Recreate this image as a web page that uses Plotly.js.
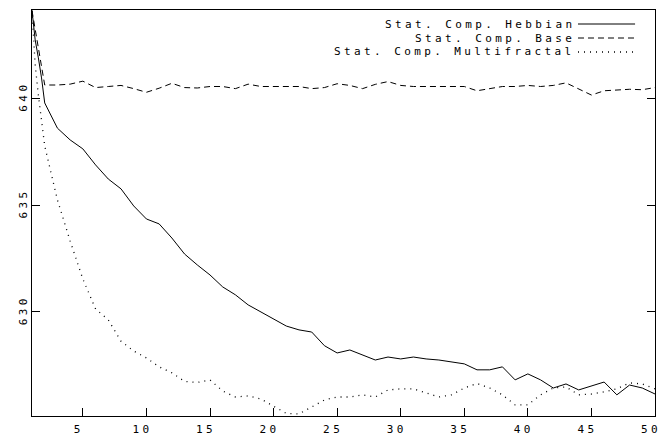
<!DOCTYPE html>
<html>
<head>
<meta charset="utf-8">
<script src="https://cdn.plot.ly/plotly-3.0.1.min.js"></script>
<style>
  html, body { margin: 0; padding: 0; background: #fff; }
  #chart { width: 664px; height: 438px; }
  .annotation-text, .xtick text, .ytick text { letter-spacing: 3.4px; }
</style>
</head>
<body>
<div id="chart"></div>
<script>
// Epochs (first interval read at finer resolution for the steep start)
var epochsFine = [1, 1.25, 1.5, 1.75, 2, 3, 4, 5, 6, 7, 8, 9, 10, 11, 12, 13, 14, 15, 16, 17, 18, 19, 20,
  21, 22, 23, 24, 25, 26, 27, 28, 29, 30, 31, 32, 33, 34, 35, 36, 37, 38, 39, 40,
  41, 42, 43, 44, 45, 46, 47, 48, 49, 50];
var epochs = [1, 2, 3, 4, 5, 6, 7, 8, 9, 10, 11, 12, 13, 14, 15, 16, 17, 18, 19, 20,
  21, 22, 23, 24, 25, 26, 27, 28, 29, 30, 31, 32, 33, 34, 35, 36, 37, 38, 39, 40,
  41, 42, 43, 44, 45, 46, 47, 48, 49, 50];

var hebbian = [644.1, 642.73, 641.89, 640.95, 639.78, 638.6, 638.05, 637.63, 636.88, 636.22, 635.76, 634.96,
  634.35, 634.12, 633.46, 632.71, 632.2, 631.73, 631.17, 630.8, 630.33, 630.0, 629.67,
  629.34, 629.16, 629.06, 628.42, 628.08, 628.22, 627.99, 627.75, 627.89, 627.8,
  627.89, 627.8, 627.75, 627.66, 627.57, 627.29, 627.29, 627.43, 626.82, 627.1,
  626.82, 626.44, 626.63, 626.35, 626.54, 626.72, 626.12, 626.58, 626.44, 626.16];

var multifractal = [644.1, 641.56, 640.15, 638.98, 637.77, 635.24, 633.32, 631.54, 630.14, 629.63, 628.63, 628.17,
  627.85, 627.43, 627.15, 626.75, 626.7, 626.82, 626.3, 626.02, 626.07, 625.93, 625.6,
  625.25, 625.23, 625.55, 625.88, 626.02, 626.02, 626.12, 626.02, 626.35, 626.4,
  626.4, 626.21, 626.02, 626.12, 626.44, 626.65, 626.44, 626.12, 625.65, 625.65,
  626.12, 626.44, 626.49, 626.12, 626.16, 626.26, 626.4, 626.68, 626.63, 626.4];

var base = [644.1, 640.62, 640.62, 640.66, 640.8, 640.5, 640.55, 640.6, 640.45, 640.28,
  640.47, 640.7, 640.5, 640.48, 640.55, 640.55, 640.45, 640.66, 640.55, 640.55,
  640.55, 640.55, 640.45, 640.5, 640.68, 640.6, 640.45, 640.65, 640.78, 640.6,
  640.55, 640.55, 640.55, 640.55, 640.55, 640.35, 640.45, 640.55, 640.55, 640.6,
  640.55, 640.6, 640.72, 640.45, 640.15, 640.35, 640.4, 640.42, 640.4, 640.5];

var seriesNames = ["Stat. Comp. Hebbian", "Stat. Comp. Base", "Stat. Comp. Multifractal"];
var xTicks = [5, 10, 15, 20, 25, 30, 35, 40, 45, 50];
var yTicks = [630, 635, 640];

var FONT = {family: "DejaVu Sans Mono, Liberation Mono, monospace", size: 11, color: "#000"};
var dashes = ["solid", "6px,4px", "1px,5px"];

var traces = [
  {x: epochsFine, y: hebbian, name: seriesNames[0], mode: "lines",
   line: {color: "#000", width: 1, dash: dashes[0]}},
  {x: epochs, y: base, name: seriesNames[1], mode: "lines",
   line: {color: "#000", width: 1, dash: dashes[1]}},
  {x: epochsFine, y: multifractal, name: seriesNames[2], mode: "lines",
   line: {color: "#000", width: 1.3, dash: dashes[2]}}
];

// Legend drawn gnuplot-style: text on the left, line sample on the right
var legendRowsY = [0.9655, 0.931, 0.8966];
var annotations = seriesNames.map(function (n, i) {
  return {text: n, xref: "paper", yref: "paper", x: 0.874, y: legendRowsY[i],
          xanchor: "right", yanchor: "middle", showarrow: false, font: FONT};
});
var shapes = seriesNames.map(function (n, i) {
  return {type: "line", xref: "paper", yref: "paper", x0: 0.8764, x1: 0.968,
          y0: legendRowsY[i], y1: legendRowsY[i],
          line: {color: "#000", width: i === 2 ? 1.3 : 1, dash: dashes[i]}};
});

var layout = {
  width: 664, height: 438,
  margin: {l: 32, r: 9, t: 10, b: 22, pad: 0},
  paper_bgcolor: "#fff", plot_bgcolor: "#fff",
  showlegend: false,
  font: FONT,
  xaxis: {
    range: [1, 50], tickvals: xTicks, ticktext: xTicks.map(String),
    ticks: "inside", ticklen: 8, tickwidth: 1, tickcolor: "#000",
    showline: true, linecolor: "#000", linewidth: 1, mirror: true,
    showgrid: false, zeroline: false, tickfont: FONT, ticklabelshift: -4,
    ticklabelstandoff: 3
  },
  yaxis: {
    range: [625.13, 644.13], tickvals: yTicks, ticktext: yTicks.map(String),
    ticks: "inside", ticklen: 8, tickwidth: 1, tickcolor: "#000",
    showline: true, linecolor: "#000", linewidth: 1, mirror: "ticks",
    showgrid: false, zeroline: false, tickfont: FONT, tickangle: -90
  },
  annotations: annotations,
  shapes: shapes
};

Plotly.newPlot("chart", traces, layout, {displayModeBar: false, staticPlot: true});
</script>
</body>
</html>
